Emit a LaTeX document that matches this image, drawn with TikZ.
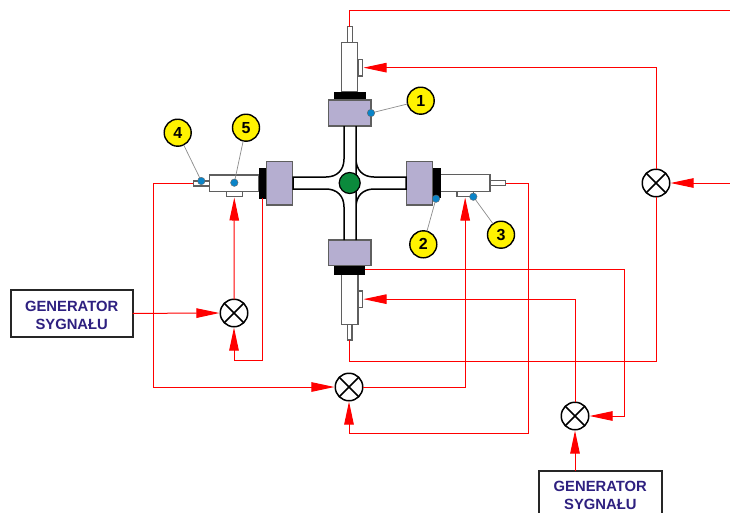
\documentclass[tikz,border=0pt]{standalone}
\usepackage{fontspec}
\setmainfont{Liberation Sans}
\usetikzlibrary{arrows.meta}
\definecolor{partpurple}{HTML}{B5AED0}
\definecolor{edgegray}{HTML}{5F5F5F}
\definecolor{gentext}{HTML}{2E2080}
\definecolor{dotblue}{HTML}{0A84C8}
\definecolor{ballgreen}{HTML}{0B8A3C}
\tikzset{
  x=1pt,y=-1pt,
  part/.style={draw=edgegray,line width=1.2pt,fill=white,inner sep=0,outer sep=0},
  flange/.style={part,fill=partpurple,line width=1.3pt},
  seal/.style={draw=black,fill=black,line width=0.5pt,inner sep=0,outer sep=0},
  mixer/.style={circle,draw=black,fill=white,line width=1.5pt,minimum size=27.5pt,inner sep=0,outer sep=0,
    path picture={\draw[black,line width=1.5pt]
      (path picture bounding box.north west)--(path picture bounding box.south east)
      (path picture bounding box.north east)--(path picture bounding box.south west);}},
  genbox/.style={draw=black!85,fill=white,line width=2pt,inner sep=0,outer sep=0,
    font=\bfseries\fontsize{14.8}{18}\selectfont,text=gentext,align=center},
  callout/.style={circle,draw=black,fill=yellow,line width=1.4pt,minimum size=27pt,inner sep=0,outer sep=0,
    font=\bfseries\fontsize{16}{18}\selectfont},
  probe/.style={circle,draw=black!60,fill=dotblue,line width=0.4pt,minimum size=7.5pt,inner sep=0,outer sep=0},
  lead/.style={draw=black!45,line width=0.7pt},
  wire/.style={draw=red,line width=1pt},
  feed/.style={wire,-{Triangle[length=23pt,width=9.5pt]},shorten >=0.8pt},
  channel/.style={draw=black,line width=1.5pt},
}
\newcommand{\rectnode}[6]{\node[#1,minimum width={(#5-#3)*1pt},minimum height={(#6-#4)*1pt}] (#2) at ({(#3+#5)/2},{(#4+#6)/2}) {};}
\begin{document}
\begin{tikzpicture}
\clip (0,0) rectangle (730,512);
\fill[white] (0,0) rectangle (730,512);
% top assembly
\rectnode{part}{tipT}{347.5}{26.7}{352.3}{42.3}
\rectnode{part}{bodyT}{341.3}{42.3}{357.7}{92}
\rectnode{part}{sideT}{358}{59.3}{362.7}{76}
\rectnode{seal}{sealT}{334.7}{92}{365}{100}
\rectnode{flange}{flT}{328.3}{100}{371}{126}
% bottom assembly
\rectnode{part}{tipB}{347.3}{324.3}{352}{340}
\rectnode{part}{bodyB}{341.3}{274}{358}{324.3}
\rectnode{part}{sideB}{358}{291}{362.7}{307.3}
\rectnode{seal}{sealB}{334.7}{265.7}{364.7}{274}
\rectnode{flange}{flB}{328.3}{240}{371}{265.7}
% left assembly
\rectnode{part}{tipL}{193.3}{181}{209.3}{186}
\rectnode{part}{bodyL}{209.3}{175}{259}{191.7}
\rectnode{part}{sideL}{226.3}{191.7}{242.3}{196.7}
\rectnode{seal}{sealL}{259}{168.3}{266.7}{198.3}
\rectnode{flange}{flL}{266.7}{161.7}{292.7}{205}
% right assembly
\rectnode{part}{tipR}{490}{180.7}{505.7}{185.7}
\rectnode{part}{bodyR}{440.7}{174.3}{490}{191.7}
\rectnode{part}{sideR}{457}{191.7}{473.3}{196.7}
\rectnode{seal}{sealR}{432.3}{168.3}{440.7}{197.5}
\rectnode{flange}{flR}{406.7}{161.7}{432.3}{205}
% cross channel
\draw[channel]
  (344,126) -- (344,159) .. controls (344,170) and (337,177) .. (326,177) -- (293,177) -- (293,189)
  -- (326,189) .. controls (337,189) and (344,196) .. (344,207) -- (344,240)
  (356,240) -- (356,207) .. controls (356,196) and (363,189) .. (374,189) -- (406,189) -- (406,177)
  -- (374,177) .. controls (363,177) and (356,170) .. (356,159) -- (356,126) -- cycle;
\node[circle,draw=black,fill=ballgreen,line width=1.2pt,minimum size=21pt,inner sep=0] (ball) at (349.7,183) {};
% mixers
\node[mixer] (mixR) at (656,183) {};
\node[mixer] (mixL) at (234,313) {};
\node[mixer] (mixC) at (349,387) {};
\node[mixer] (mixD) at (575,416) {};
% generators
\node[genbox,minimum width=122pt,minimum height=46.7pt] (genL) at (71.7,313.4) {\rule{0pt}{14pt}GENERATOR\\SYGNAŁU};
\node[genbox,minimum width=122.7pt,minimum height=48pt] (genD) at (600.3,495) {GENERATOR\\SYGNAŁU};
% free ends and corners
\coordinate (cTop) at (730,10.5);
\coordinate (cRight) at (730,183);
\coordinate (cBot) at (656,361.5);
\coordinate (cSeal) at (624.5,416);
\coordinate (cLow) at (234,360);
\coordinate (cFar) at (153.5,300);
\coordinate (cRet) at (528.5,433);
% connectors
\draw[wire] (tipT.north) |- (cTop);
\draw[feed] (mixR.north) |- (sideT.east);
\draw[feed] (cRight) -- (mixR.east);
\draw[wire] (tipB.south) |- (cBot) -- (mixR.south);
\draw[feed] (sealB.east) -| (cSeal) -- (mixD.east);
\draw[feed] (mixD.north) |- (sideB.east);
\draw[feed] (mixD.south |- genD.north) -- (mixD.south);
\draw[feed] (genL.east) -- (mixL.west);
\draw[feed] (mixL.north) -- (sideL.south);
\draw[feed] (sealL.south) |- (cLow) -- (mixL.south);
\draw[feed] (tipL.west) -| (cFar) |- (mixC.west);
\draw[feed] (mixC.east) -| (sideR.south);
\draw[feed] (tipR.east) -| (cRet) -| (mixC.south);
% callouts
\node[callout] (n1) at (420.7,100.7) {1};
\node[callout] (n2) at (423.3,244.3) {2};
\node[callout] (n3) at (501,234.7) {3};
\node[callout] (n4) at (177.7,132.7) {4};
\node[callout] (n5) at (246,127.7) {5};
\draw[lead] (n1) -- (371,113);
\draw[lead] (n2) -- (436,198.7);
\draw[lead] (n3) -- (473.3,196.7);
\draw[lead] (n4) -- (201.3,181);
\draw[lead] (n5) -- (234.3,182.7);
\node[probe] (d1) at (371,113) {};
\node[probe] (d2) at (436,198.7) {};
\node[probe] (d3) at (473.3,196.7) {};
\node[probe] (d4) at (201.3,181) {};
\node[probe] (d5) at (234.3,182.7) {};
\end{tikzpicture}
\end{document}
